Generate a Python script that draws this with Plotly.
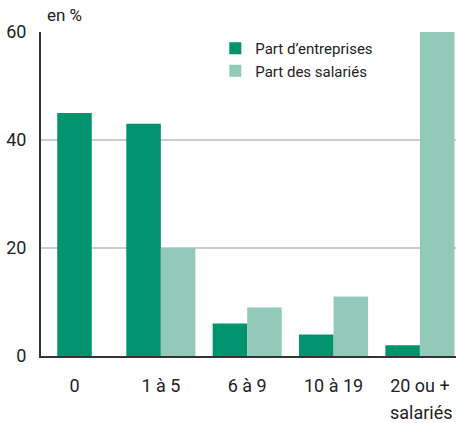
import plotly.graph_objects as go

categories = ["0", "1 à 5", "6 à 9", "10 à 19", "20 ou +"]
part_entreprises = [45, 43, 6, 4, 2]
part_salaries = [None, 20, 9, 11, 60]
y_ticks = [0, 20, 40, 60]
series_names = ["Part d’entreprises", "Part des salariés"]

DARK = "#00936E"
LIGHT = "#92C9B8"
FONT = "Liberation Sans Narrow, Arial Narrow, Roboto, sans-serif"
W = 0.4

idx = list(range(len(categories)))
off_dark = [-W / 2 if v is None else -W for v in part_salaries]

fig = go.Figure()
fig.add_trace(go.Bar(x=idx, y=part_entreprises, name=series_names[0],
                     marker=dict(color=DARK, line=dict(width=0)),
                     width=W, offset=off_dark))
fig.add_trace(go.Bar(x=idx, y=part_salaries, name=series_names[1],
                     marker=dict(color=LIGHT, line=dict(width=0)),
                     width=W, offset=0))

fig.update_layout(
    width=456, height=423,
    margin=dict(l=41, r=0, t=32, b=67),
    plot_bgcolor="white", paper_bgcolor="white",
    barmode="overlay",
    font=dict(family=FONT, size=18, color="#222"),
    showlegend=True,
    legend=dict(x=0.42, y=1.0, xanchor="left", yanchor="top",
                font=dict(size=15, color="#222"), bgcolor="rgba(0,0,0,0)",
                itemwidth=30),
    xaxis=dict(range=[-0.388, 4.418], tickmode="array", tickvals=idx,
               ticktext=categories, showgrid=False, zeroline=False,
               showline=True, linecolor="#333", linewidth=2,
               ticks="", ticklabelstandoff=12),
    yaxis=dict(range=[0, 60], tickmode="array", tickvals=y_ticks,
               showgrid=True, gridcolor="#cccccc", gridwidth=2,
               zeroline=False, showline=True, linecolor="#333", linewidth=2,
               ticks="", ticklabelstandoff=9),
    annotations=[
        dict(text="en %", xref="paper", yref="paper", x=0.01, y=1.0,
             xanchor="left", yanchor="bottom", yshift=5, showarrow=False,
             font=dict(size=17)),
        dict(text="salariés", xref="paper", yref="paper", x=1, y=0,
             xanchor="right", yanchor="top", xshift=-1, yshift=-44,
             showarrow=False, font=dict(size=18)),
    ],
)

fig.write_html("out.html", config={"displayModeBar": False},
               post_script="document.body.style.margin='0';")
